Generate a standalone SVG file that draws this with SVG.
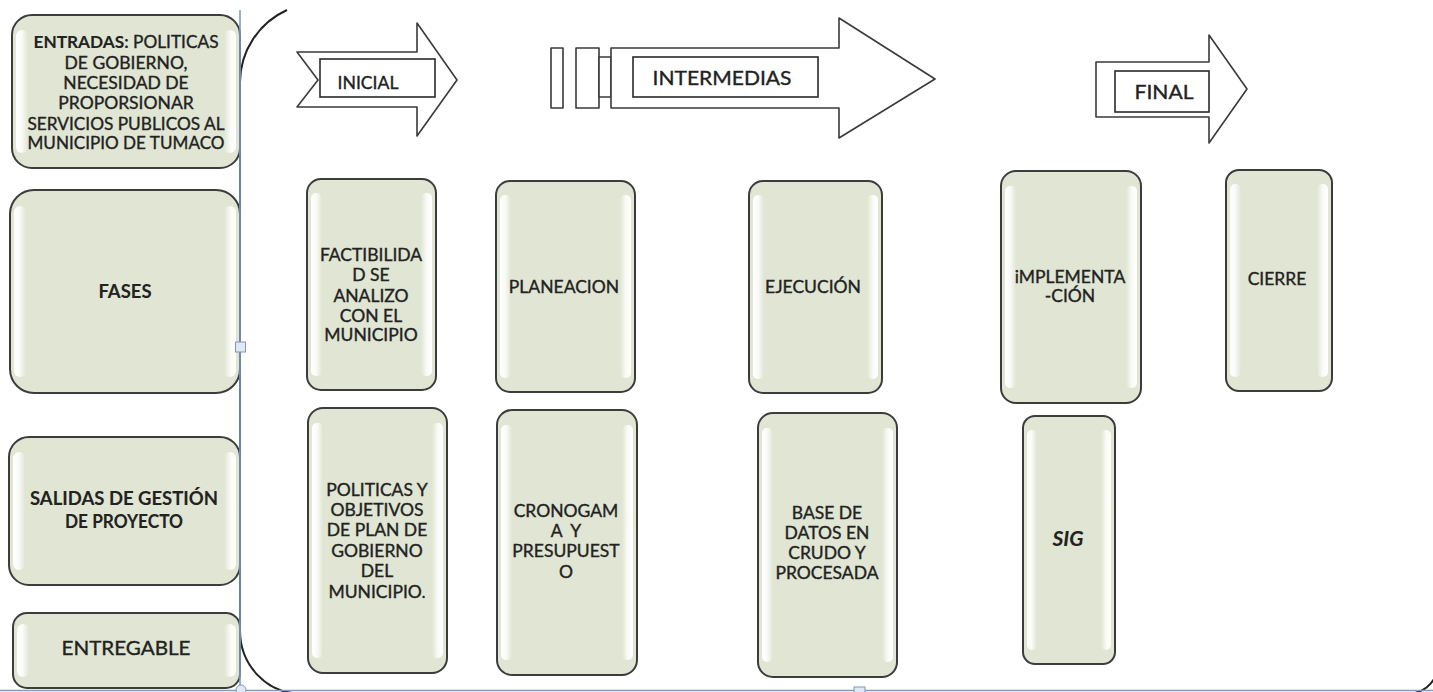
<svg xmlns="http://www.w3.org/2000/svg" width="1433" height="692" viewBox="0 0 1433 692">
  <defs>
    <linearGradient id="hlL" x1="0" y1="0" x2="1" y2="0">
      <stop offset="0" stop-color="#ffffff" stop-opacity="1"/>
      <stop offset="0.45" stop-color="#ffffff" stop-opacity="0.85"/>
      <stop offset="1" stop-color="#ffffff" stop-opacity="0"/>
    </linearGradient>
    <linearGradient id="hlR" x1="1" y1="0" x2="0" y2="0">
      <stop offset="0" stop-color="#ffffff" stop-opacity="1"/>
      <stop offset="0.45" stop-color="#ffffff" stop-opacity="0.85"/>
      <stop offset="1" stop-color="#ffffff" stop-opacity="0"/>
    </linearGradient>
  </defs>
  <style>
    .box { fill: #e0e6d3; stroke: #3c3c3c; stroke-width: 2; }
    .hl-l { fill: url(#hlL); }
    .hl-r { fill: url(#hlR); }
    .arrow { fill: #ffffff; stroke: #3a3a3a; stroke-width: 1.6; stroke-linejoin: round; }
    .lbl { fill: #ffffff; stroke: #2a2a2a; stroke-width: 1.6; }
    .frame { fill: none; stroke: #222222; stroke-width: 2; }
    .sel { stroke: #7f9cc2; stroke-width: 1.6; fill: none; }
    .handle { fill: #dfe8f4; stroke: #7f98b8; stroke-width: 1; }
    text { font-family: Lato, "Liberation Sans", sans-serif; font-size: 17.5px; fill: #222222; stroke: #222222; stroke-width: 0.35; text-anchor: middle; }
    .b { font-weight: bold; stroke-width: 0.1; }
    .i { font-style: italic; font-weight: bold; stroke-width: 0.1; }
    .big { font-size: 19.5px; }
    .sm { font-size: 16.5px; }
    .hdr { font-size: 18.5px; }
    .h2 { font-size: 19px; }
    .sig { font-size: 21px; }
  </style>

  <!-- rounded frame holding the phases -->
  <path class="frame" d="M 287,10 A 80 80 0 0 0 240,82 L 240,630 A 60 63 0 0 0 300,693.5 L 1412,693.5 A 30 30 0 0 0 1436,675"/>

  <!-- phase arrows -->
  <g id="arrow-inicial">
    <path class="arrow" d="M 297,52 L 417,52 L 417,23 L 457,80 L 417,136 L 417,107 L 297,107 L 318,80 Z"/>
    <rect class="lbl" x="320" y="59" width="115" height="38"/>
    <text class="sm" x="368" y="89" textLength="61" lengthAdjust="spacingAndGlyphs">INICIAL</text>
  </g>
  <g id="arrow-intermedias">
    <rect class="arrow" x="551" y="48" width="12" height="60"/>
    <rect class="arrow" x="576" y="48" width="23" height="60"/>
    <rect class="arrow" x="599" y="57" width="12" height="40"/>
    <path class="arrow" d="M 611,48 L 839,48 L 839,18 L 935,79 L 839,138 L 839,108 L 611,108 Z"/>
    <rect class="lbl" x="633" y="57" width="185" height="40"/>
    <text class="big" x="722" y="85" textLength="139" lengthAdjust="spacingAndGlyphs">INTERMEDIAS</text>
  </g>
  <g id="arrow-final">
    <path class="arrow" d="M 1096,62 L 1209,62 L 1209,35 L 1247,89 L 1209,143 L 1209,117 L 1096,117 Z"/>
    <rect class="lbl" x="1115" y="71" width="94" height="41"/>
    <text class="big" x="1164" y="99" textLength="59" lengthAdjust="spacingAndGlyphs">FINAL</text>
  </g>

  <!-- left column: row headers -->
  <g id="entradas">
    <rect class="box" x="12" y="15" width="228" height="153" rx="20"/>
    <rect class="hl-l" x="16" y="30" width="12" height="123" rx="6"/>
    <rect class="hl-r" x="224" y="30" width="12" height="123" rx="6"/>
    <text x="126" y="48" textLength="185" lengthAdjust="spacingAndGlyphs"><tspan class="b">ENTRADAS:</tspan> POLITICAS</text>
    <text x="126" y="69">DE GOBIERNO,</text>
    <text x="126" y="89">NECESIDAD DE</text>
    <text x="126" y="109">PROPORSIONAR</text>
    <text x="126" y="130" textLength="197" lengthAdjust="spacingAndGlyphs">SERVICIOS PUBLICOS AL</text>
    <text x="126" y="149" textLength="197" lengthAdjust="spacingAndGlyphs">MUNICIPIO DE TUMACO</text>
  </g>
  <g id="fases">
    <rect class="box" x="10" y="190" width="230" height="203" rx="24"/>
    <rect class="hl-l" x="14" y="206" width="12" height="171" rx="6"/>
    <rect class="hl-r" x="224" y="206" width="12" height="171" rx="6"/>
    <text class="b h2" x="125" y="298" textLength="53" lengthAdjust="spacingAndGlyphs">FASES</text>
  </g>
  <g id="salidas">
    <rect class="box" x="9" y="437" width="231" height="148" rx="20"/>
    <rect class="hl-l" x="13" y="452" width="12" height="118" rx="6"/>
    <rect class="hl-r" x="224" y="452" width="12" height="118" rx="6"/>
    <text class="b hdr" x="124" y="505" textLength="188" lengthAdjust="spacingAndGlyphs">SALIDAS DE GESTIÓN</text>
    <text class="b hdr" x="124" y="528" textLength="118" lengthAdjust="spacingAndGlyphs">DE PROYECTO</text>
  </g>
  <g id="entregable">
    <rect class="box" x="13" y="613" width="227" height="75" rx="14"/>
    <rect class="hl-l" x="17" y="624" width="12" height="53" rx="6"/>
    <rect class="hl-r" x="224" y="624" width="12" height="53" rx="6"/>
    <text class="h2" x="126" y="655" textLength="129" lengthAdjust="spacingAndGlyphs">ENTREGABLE</text>
  </g>

  <!-- phases row -->
  <g id="factibilidad">
    <rect class="box" x="307" y="179" width="129" height="211" rx="14"/>
    <rect class="hl-l" x="311" y="193" width="11" height="183" rx="5"/>
    <rect class="hl-r" x="421" y="193" width="11" height="183" rx="5"/>
    <text x="371" y="261">FACTIBILIDA</text>
    <text x="371" y="281">D SE</text>
    <text x="371" y="302">ANALIZO</text>
    <text x="371" y="322">CON EL</text>
    <text x="371" y="341">MUNICIPIO</text>
  </g>
  <g id="planeacion">
    <rect class="box" x="496" y="181" width="139" height="211" rx="14"/>
    <rect class="hl-l" x="500" y="195" width="11" height="183" rx="5"/>
    <rect class="hl-r" x="620" y="195" width="11" height="183" rx="5"/>
    <text x="564" y="293">PLANEACION</text>
  </g>
  <g id="ejecucion">
    <rect class="box" x="749" y="181" width="133" height="212" rx="14"/>
    <rect class="hl-l" x="753" y="195" width="11" height="184" rx="5"/>
    <rect class="hl-r" x="867" y="195" width="11" height="184" rx="5"/>
    <text x="813" y="293">EJECUCIÓN</text>
  </g>
  <g id="implementacion">
    <rect class="box" x="1001" y="171" width="140" height="232" rx="15"/>
    <rect class="hl-l" x="1005" y="186" width="11" height="202" rx="5"/>
    <rect class="hl-r" x="1126" y="186" width="11" height="202" rx="5"/>
    <text x="1070" y="283">iMPLEMENTA</text>
    <text x="1070" y="302">-CIÓN</text>
  </g>
  <g id="cierre">
    <rect class="box" x="1226" y="170" width="106" height="221" rx="13"/>
    <rect class="hl-l" x="1230" y="184" width="11" height="193" rx="5"/>
    <rect class="hl-r" x="1317" y="184" width="11" height="193" rx="5"/>
    <text x="1277" y="285">CIERRE</text>
  </g>

  <!-- outputs row -->
  <g id="politicas">
    <rect class="box" x="308" y="408" width="139" height="265" rx="15"/>
    <rect class="hl-l" x="312" y="423" width="11" height="235" rx="5"/>
    <rect class="hl-r" x="432" y="423" width="11" height="235" rx="5"/>
    <text x="377" y="496">POLITICAS Y</text>
    <text x="377" y="516">OBJETIVOS</text>
    <text x="377" y="536">DE PLAN DE</text>
    <text x="377" y="557">GOBIERNO</text>
    <text x="377" y="577">DEL</text>
    <text x="377" y="598">MUNICIPIO.</text>
  </g>
  <g id="cronograma">
    <rect class="box" x="497" y="410" width="140" height="265" rx="15"/>
    <rect class="hl-l" x="501" y="425" width="11" height="235" rx="5"/>
    <rect class="hl-r" x="622" y="425" width="11" height="235" rx="5"/>
    <text x="566" y="517">CRONOGAM</text>
    <text x="566" y="537" xml:space="preserve">A  Y</text>
    <text x="566" y="557">PRESUPUEST</text>
    <text x="566" y="578">O</text>
  </g>
  <g id="base-datos">
    <rect class="box" x="758" y="413" width="139" height="264" rx="15"/>
    <rect class="hl-l" x="762" y="428" width="11" height="234" rx="5"/>
    <rect class="hl-r" x="882" y="428" width="11" height="234" rx="5"/>
    <text x="827" y="519">BASE DE</text>
    <text x="827" y="539">DATOS EN</text>
    <text x="827" y="559">CRUDO Y</text>
    <text x="827" y="579">PROCESADA</text>
  </g>
  <g id="sig">
    <rect class="box" x="1023" y="416" width="92" height="248" rx="12"/>
    <rect class="hl-l" x="1027" y="430" width="10" height="220" rx="5"/>
    <rect class="hl-r" x="1101" y="430" width="10" height="220" rx="5"/>
    <text class="i sig" x="1068" y="546">SIG</text>
  </g>

  <!-- selection guides -->
  <g id="guides">
    <line class="sel" x1="0" y1="690.5" x2="1433" y2="690.5" stroke-width="2"/>
    <line class="sel" x1="240" y1="10" x2="240" y2="692" stroke-width="2"/>
    <rect class="handle" x="235.5" y="342" width="10" height="10"/>
    <circle class="handle" cx="241" cy="690" r="5"/>
    <rect class="handle" x="854" y="687" width="11" height="10"/>
  </g>
</svg>
